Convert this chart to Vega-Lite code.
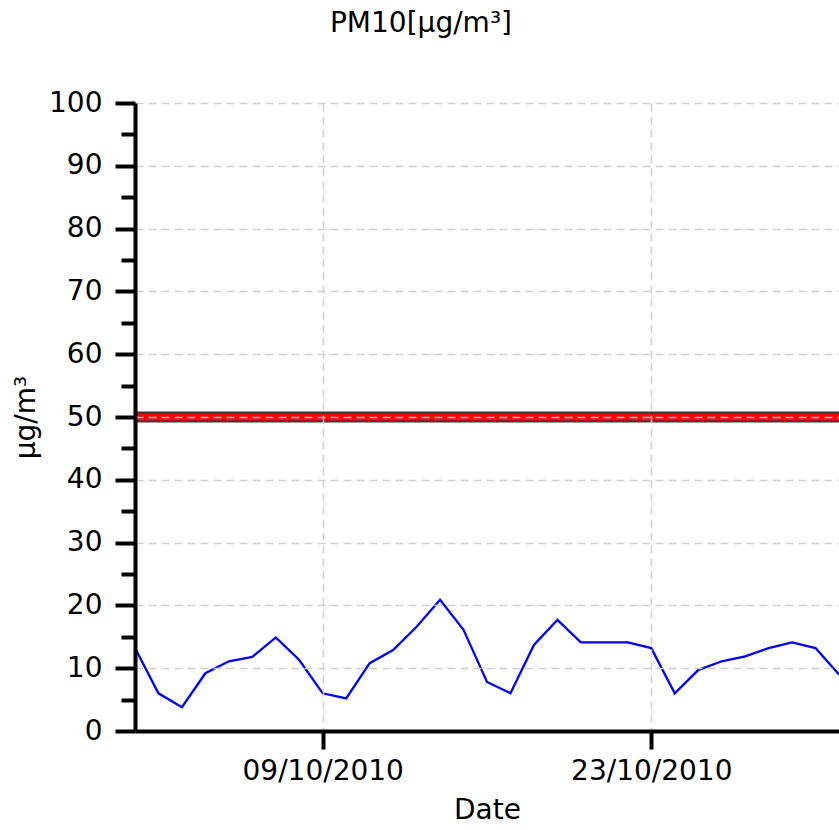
{
  "$schema": "https://vega.github.io/schema/vega-lite/v6.json",
  "width": 704,
  "height": 628,
  "autosize": {"type": "none"},
  "padding": {"left": 135, "top": 103, "right": 0, "bottom": 99},
  "background": "white",
  "config": {"font": "DejaVu Sans", "view": {"stroke": null}},
  "title": {"text": "PM10[µg/m³]", "font": "DejaVu Sans", "fontSize": 28, "fontWeight": "normal", "color": "#000000", "anchor": "middle", "dx": -66, "offset": 51},
  "datasets": {
    "pm10": [
      {"date": "2010-10-01", "pm10": 13.2},
      {"date": "2010-10-02", "pm10": 6.0},
      {"date": "2010-10-03", "pm10": 3.8},
      {"date": "2010-10-04", "pm10": 9.2},
      {"date": "2010-10-05", "pm10": 11.1},
      {"date": "2010-10-06", "pm10": 11.8},
      {"date": "2010-10-07", "pm10": 14.9},
      {"date": "2010-10-08", "pm10": 11.3},
      {"date": "2010-10-09", "pm10": 6.0},
      {"date": "2010-10-10", "pm10": 5.2},
      {"date": "2010-10-11", "pm10": 10.8},
      {"date": "2010-10-12", "pm10": 12.9},
      {"date": "2010-10-13", "pm10": 16.6},
      {"date": "2010-10-14", "pm10": 20.9},
      {"date": "2010-10-15", "pm10": 16.1},
      {"date": "2010-10-16", "pm10": 7.8},
      {"date": "2010-10-17", "pm10": 6.0},
      {"date": "2010-10-18", "pm10": 13.7},
      {"date": "2010-10-19", "pm10": 17.7},
      {"date": "2010-10-20", "pm10": 14.1},
      {"date": "2010-10-21", "pm10": 14.1},
      {"date": "2010-10-22", "pm10": 14.1},
      {"date": "2010-10-23", "pm10": 13.2},
      {"date": "2010-10-24", "pm10": 6.0},
      {"date": "2010-10-25", "pm10": 9.7},
      {"date": "2010-10-26", "pm10": 11.1},
      {"date": "2010-10-27", "pm10": 11.9},
      {"date": "2010-10-28", "pm10": 13.2},
      {"date": "2010-10-29", "pm10": 14.1},
      {"date": "2010-10-30", "pm10": 13.2},
      {"date": "2010-10-31", "pm10": 9.0}
    ],
    "limit": [{"pm10": 50}]
  },
  "encoding": {
    "y": {
      "field": "pm10",
      "type": "quantitative",
      "scale": {"domain": [0, 100], "nice": false, "zero": true},
      "axis": {
        "values": [0, 5, 10, 15, 20, 25, 30, 35, 40, 45, 50, 55, 60, 65, 70, 75, 80, 85, 90, 95, 100],
        "labelExpr": "datum.value % 10 === 0 ? datum.label : ''",
        "tickSize": {"condition": {"test": "datum.value % 10 === 0", "value": 20}, "value": 14},
        "gridOpacity": {"condition": {"test": "datum.value % 10 === 0", "value": 1}, "value": 0},
        "title": "µg/m³",
        "titleFontSize": 28,
        "titleFontWeight": "normal",
        "titleColor": "#000000",
        "titlePadding": 8,
        "labelFontSize": 28,
        "labelColor": "#000000",
        "labelPadding": 13,
        "labelOverlap": false,
        "labelFlush": false,
        "tickWidth": 4,
        "tickColor": "#000000",
        "domainColor": "#000000",
        "domainWidth": 4,
        "grid": true,
        "gridColor": "#d0d0d0",
        "gridDash": [8, 5],
        "gridWidth": 1.5,
        "zindex": 1
      }
    }
  },
  "layer": [
    {
      "data": {"name": "limit"},
      "mark": {"type": "rule", "color": "#3a3a3a", "strokeWidth": 11}
    },
    {
      "data": {"name": "limit"},
      "mark": {"type": "rule", "color": "#ff0000", "strokeWidth": 7}
    },
    {
      "data": {"name": "pm10"},
      "mark": {"type": "line", "color": "#0000ff", "strokeWidth": 2.3, "clip": true},
      "encoding": {
        "x": {
          "field": "date",
          "type": "temporal",
          "scale": {"type": "utc", "domain": [{"year": 2010, "month": 10, "date": 1, "utc": true}, {"year": 2010, "month": 10, "date": 31, "utc": true}]},
          "axis": {
            "values": [{"year": 2010, "month": 10, "date": 9, "utc": true}, {"year": 2010, "month": 10, "date": 23, "utc": true}],
            "labelExpr": "utcFormat(datum.value, '%d/%m/%Y')",
            "title": "Date",
            "titleFontSize": 28,
            "titleFontWeight": "normal",
            "titleColor": "#000000",
            "titlePadding": 11,
            "labelFontSize": 28,
            "labelColor": "#000000",
            "labelPadding": 8,
            "labelFlush": false,
            "labelOverlap": false,
            "tickSize": 18,
            "tickWidth": 4,
            "tickColor": "#000000",
            "domainColor": "#000000",
            "domainWidth": 4,
            "grid": true,
            "gridColor": "#d0d0d0",
            "gridDash": [8, 5],
            "gridWidth": 1.5,
            "zindex": 1
          }
        }
      }
    }
  ]
}
